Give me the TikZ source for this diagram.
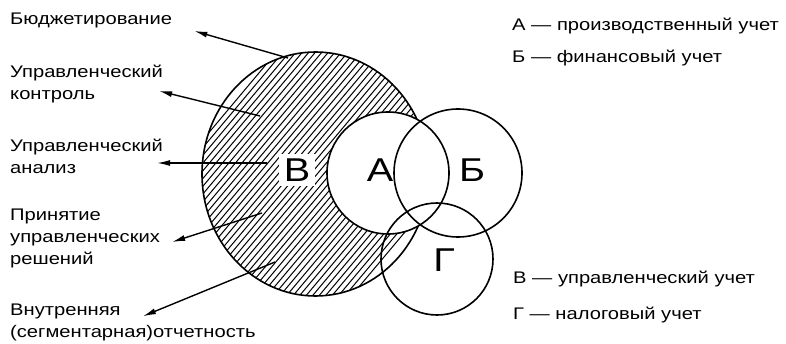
\documentclass[tikz,border=0pt]{standalone}
\usepackage{fontspec}
\setmainfont{Liberation Sans}[FakeStretch=1.2]
\usetikzlibrary{shapes.geometric, arrows.meta, positioning}

\begin{document}
\begin{tikzpicture}[x=1pt, y=-1pt,
  circ/.style={circle, draw, line width=1.6pt, inner sep=0pt},
  lbl/.style={font=\fontsize{16.8}{22}\selectfont, align=left, anchor=west, inner sep=0pt},
  big/.style={font=\fontsize{33}{33}\selectfont, inner sep=0pt},
  leg/.style={font=\fontsize{16.8}{22}\selectfont, anchor=west, inner sep=0pt},
  hatch/.style={line width=1pt},
  arr/.style={-{Latex[length=13pt,width=6pt]}, line width=1.4pt}
]
\useasboundingbox (0,0) rectangle (786,344);

% circles
\node[ellipse, draw, line width=1.6pt, minimum width=227pt, minimum height=244pt] (cV) at (315.5,174) {};
\begin{scope}
  \clip (315.5,174) ellipse [x radius=113.5, y radius=122];
  \foreach \x in {60,66.5,...,345}
    \draw[hatch] (\x,310) -- ++(230,-274);
\end{scope}
\node[circ, fill=white, minimum size=122pt] (cA) at (388,173) {};
\node[circ, minimum size=128pt] (cB) at (458,173) {};
\node[circ, minimum size=112pt] (cG) at (437,259) {};

\node[big, fill=white, inner sep=5pt] (lV) at (297,170) {В};
\node[big] (lA) at (380,170) {А};
\node[big] (lB) at (472,170) {Б};
\node[big] (lG) at (444,260) {Г};

% left labels
\node[lbl] (budg)  at (10,20)  {Бюджетирование};
\node[lbl] (kontr) at (10,84)  {Управленческий\\контроль};
\node[lbl] (anal)  at (10,156) {Управленческий\\анализ};
\node[lbl] (resh)  at (10,238) {Принятие\\управленческих\\решений};
\node[lbl] (otch)  at (10,322) {Внутренняя\\(сегментарная)отчетность};

\coordinate (pBudg)  at (288,58);
\coordinate (pKontr) at (260,116);
\coordinate (pAnal)  at (267,163);
\coordinate (pResh)  at (262,213);
\coordinate (pOtch)  at (275,262);

\draw[arr] (pBudg)  -- ([shift={(22,11)}]budg.east);
\draw[arr] (pKontr) -- ([shift={(-4,7)}]kontr.east);
\draw[arr] (pAnal)  -- ([shift={(-6,7)}]anal.east);
\draw[arr] (pResh)  -- ([shift={(12,4)}]resh.east);
\draw[arr] (pOtch)  -- ([shift={(10,13)}]otch.north);

% legend
\node[leg] (legA) at (512,26) {А — производственный учет};
\node[leg, below=16pt of legA.south west, anchor=north west] (legB) {Б — финансовый учет};
\node[leg] (legV) at (513,279) {В — управленческий учет};
\node[leg, below=20pt of legV.south west, anchor=north west] (legG) {Г — налоговый учет};
\end{tikzpicture}
\end{document}
